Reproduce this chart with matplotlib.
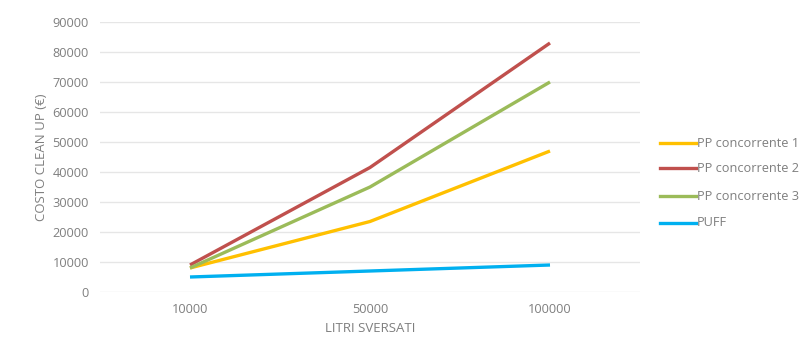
import matplotlib.pyplot as plt
from matplotlib.lines import Line2D

plt.rcParams['font.family'] = ['Open Sans', 'DejaVu Sans']

categories = ['10000', '50000', '100000']
pp1 = [8000, 23500, 47000]
pp2 = [9000, 41500, 83000]
pp3 = [8000, 35000, 70000]
puff = [5000, 7000, 9000]
series_names = ['PP concorrente 1', 'PP concorrente 2', 'PP concorrente 3', 'PUFF']
colors = ['#FFC000', '#C0504D', '#9BBB59', '#00B0F0']

fig = plt.figure(figsize=(8.03, 3.41), dpi=100)
W, H = 803, 341
ax = fig.add_axes([100 / W, 1 - 292 / H, 540 / W, 270 / H])

x = range(len(categories))
for vals, c in zip([pp1, pp2, pp3, puff], colors):
    ax.plot(x, vals, color=c, lw=2.4, solid_capstyle='butt', zorder=3)

ax.set_xlim(-0.5, len(categories) - 0.5)
ax.set_ylim(0, 90000)
ax.set_yticks(range(0, 90001, 10000))
ax.set_xticks(list(x))
ax.set_xticklabels(categories)
ax.grid(axis='y', color='#e6e6e6', lw=1)
ax.set_axisbelow(True)
for s in ax.spines.values():
    s.set_visible(False)
ax.tick_params(length=0, labelsize=9.2, labelcolor='#7f7f7f')
ax.tick_params(axis='y', pad=8)
ax.tick_params(axis='x', pad=8)

ax.set_ylabel('COSTO CLEAN UP (€)', fontsize=9.5, color='#7f7f7f', labelpad=3)
ax.set_xlabel('LITRI SVERSATI', fontsize=9.5, color='#7f7f7f', labelpad=4)

# legend drawn by hand to the right of the plot
legend_y = [143, 168, 196, 223]
for name, c, py in zip(series_names, colors, legend_y):
    yf = 1 - py / H
    fig.add_artist(Line2D([660 / W, 696 / W], [yf, yf], color=c, lw=2.4,
                          transform=fig.transFigure))
    fig.text(697 / W, yf, name, fontsize=9.2, color='#7f7f7f', va='center', ha='left')

fig.savefig('out.png', dpi=100)
